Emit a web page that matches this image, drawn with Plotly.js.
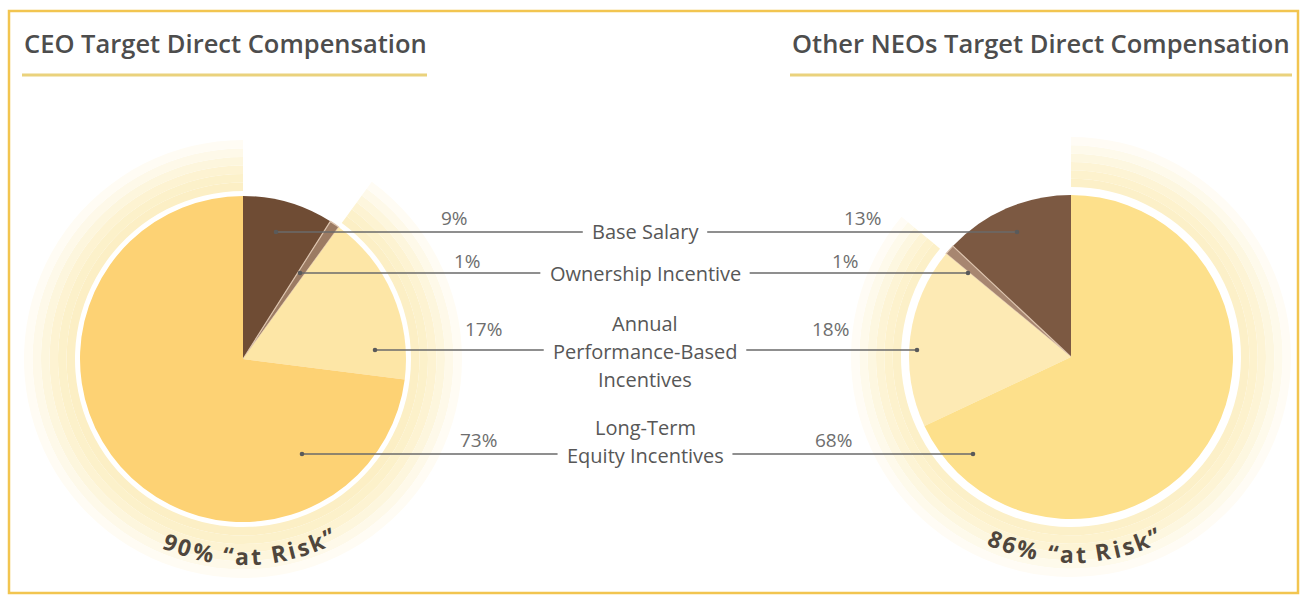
<!DOCTYPE html>
<html><head><meta charset="utf-8">
<script src="https://cdn.plot.ly/plotly-3.0.1.min.js"></script>
<style>html,body{margin:0;padding:0;background:#fff}#chart{width:1305px;height:598px}</style>
</head><body><div id="chart"></div>
<script>
// ---------------- DATA ----------------
const categories = ['Base Salary', 'Ownership Incentive', 'Annual Performance-Based Incentives', 'Long-Term Equity Incentives'];
const categoryLines = [['Base Salary'], ['Ownership Incentive'], ['Annual', 'Performance-Based', 'Incentives'], ['Long-Term', 'Equity Incentives']];
const ceoValues = [9, 1, 17, 73];
const neoValues = [13, 1, 18, 68];
const atRiskValues = [90, 86];
const atRiskSuffix = '% \u201Cat Risk\u201D';
const chartTitles = ['CEO Target Direct Compensation', 'Other NEOs Target Direct Compensation'];

// ---------------- LAYOUT / STYLE ----------------
const W = 1305, H = 598;
const px = x => x / W;
const py = y => 1 - y / H;

const pies = [
  {cx: 243, cy: 359, r: 163, ringIn: 168, ringOut: 219, dir: 'clockwise', values: ceoValues, atRisk: atRiskValues[0],
   colors: ['#6f4c34', '#9c7b63', '#fde6a6', '#fdd274'],
   ringColors: ['#fcefc5', '#fcf1ca', '#fdf3d2', '#fdf6dd', '#fef9e9', '#fffcf4'],
   riskCenterDeg: 2, title: chartTitles[0], titleX: 22, titleAnchor: 'left', ulx: [22, 427]},
  {cx: 1071, cy: 357, r: 162, ringIn: 170, ringOut: 220, dir: 'counterclockwise', values: neoValues, atRisk: atRiskValues[1],
   colors: ['#7c5942', '#a78670', '#fdeab4', '#fde08b'],
   ringColors: ['#fcf0c8', '#fdf2cd', '#fdf4d5', '#fdf7e0', '#fefaeb', '#fffcf5'],
   riskCenterDeg: 1, title: chartTitles[1], titleX: 1292, titleAnchor: 'right', ulx: [790, 1292]}
];

// leader rows (layout positions)
const rows = [
  {lineY: 232, pctY: 218, anchorX: [276, 1017], pctX: [454, 862], textY: [231]},
  {lineY: 273, pctY: 261, anchorX: [300, 968], pctX: [467, 845], textY: [273]},
  {lineY: 350, pctY: 329, anchorX: [375, 917], pctX: [483, 830], textY: [323, 351, 379]},
  {lineY: 454, pctY: 440, anchorX: [302, 973], pctX: [478, 833], textY: [427, 455]}
];
const labelCX = 645;
const labelFont = {family: '"Open Sans"', size: 20, color: '#575757', weight: 400};
const pctFont = {family: '"Open Sans"', size: 19, color: '#6e6e6e', weight: 400};
const riskFont = {family: '"Open Sans"', size: 23, color: '#4f463c', weight: 700};
const titleFont = {family: '"Open Sans"', size: 25.5, color: '#4d4d4d', weight: 600};
const lineColor = '#6a6a6a';

const canvas = document.createElement('canvas');
const ctx = canvas.getContext('2d');
function measure(text, f) { ctx.font = `${f.weight} ${f.size}px ${f.family}`; return ctx.measureText(text).width; }

const traces = [];
const shapes = [];
const annotations = [];

function dom(cx, cy, r) { return {x: [px(cx - r), px(cx + r)], y: [py(cy + r), py(cy - r)]}; }
// Plotly starts a counterclockwise pie with the first slice ending at `rotation`;
// shift so the first slice starts at 12 o'clock.
function startRot(dir, firstValue, total) { return dir === 'counterclockwise' ? -360 * firstValue / total : 0; }

pies.forEach(p => {
  // outer "at risk" ring, drawn as soft bands fading outwards
  const n = p.ringColors.length;
  const w = p.ringOut - p.ringIn;
  for (let i = 0; i < n; i++) {
    const r0 = p.ringIn + w * i / n, r1 = p.ringIn + w * (i + 1) / n;
    traces.push({type: 'pie', values: [100 - p.atRisk, p.atRisk], labels: ['fixed', 'at risk'], sort: false,
      direction: p.dir, rotation: startRot(p.dir, 100 - p.atRisk, 100), hole: r0 / r1, textinfo: 'none', hoverinfo: 'skip', showlegend: false,
      domain: dom(p.cx, p.cy, r1),
      marker: {colors: ['rgba(0,0,0,0)', p.ringColors[i]], line: {width: 0}}});
  }
  // main pie
  const tot = p.values.reduce((a, b) => a + b, 0);
  traces.push({type: 'pie', values: p.values, labels: categories, sort: false, direction: p.dir,
    rotation: startRot(p.dir, p.values[0], tot),
    textinfo: 'none', hoverinfo: 'skip', showlegend: false, domain: dom(p.cx, p.cy, p.r),
    marker: {colors: p.colors, line: {color: [p.colors[0], '#dcc3ad', p.colors[2], p.colors[3]], width: [0, 1.2, 0, 0]}}});

  // title + underline
  annotations.push({xref: 'paper', yref: 'paper', x: px(p.titleX), y: py(43), xanchor: p.titleAnchor, yanchor: 'middle',
    text: p.title, showarrow: false, font: titleFont});
  shapes.push({type: 'line', xref: 'paper', yref: 'paper', x0: px(p.ulx[0]), x1: px(p.ulx[1]), y0: py(75), y1: py(75),
    line: {color: '#ead27c', width: 3}});

  // curved "at risk" text
  const str = p.atRisk + atRiskSuffix;
  const spacing = 2;
  const chars = [...str];
  const widths = chars.map(ch => measure(ch, riskFont) + spacing);
  const total = widths.reduce((a, b) => a + b, 0) - spacing;
  const R = 197;
  let s = -total / 2;
  chars.forEach((ch, i) => {
    const mid = s + (widths[i] - spacing) / 2;
    s += widths[i];
    if (ch === ' ') return;
    const a = p.riskCenterDeg * Math.PI / 180 + mid / R;
    const x = p.cx + R * Math.sin(a);
    const y = p.cy + R * Math.cos(a);
    annotations.push({xref: 'paper', yref: 'paper', x: px(x), y: py(y), xanchor: 'center', yanchor: 'middle',
      text: ch, textangle: -a * 180 / Math.PI, showarrow: false, font: riskFont});
  });
});

// leader lines, percent labels, category labels
rows.forEach((row, k) => {
  const lines = categoryLines[k];
  const maxW = Math.max(...lines.map(t => measure(t, labelFont)));
  const gap = 9;
  const leftEnd = labelCX - maxW / 2 - gap;
  const rightStart = labelCX + maxW / 2 + gap;
  lines.forEach((t, j) => {
    annotations.push({xref: 'paper', yref: 'paper', x: px(labelCX), y: py(row.textY[j]), xanchor: 'center', yanchor: 'middle',
      text: t, showarrow: false, font: labelFont});
  });
  shapes.push({type: 'line', xref: 'paper', yref: 'paper', x0: px(row.anchorX[0]), x1: px(leftEnd), y0: py(row.lineY), y1: py(row.lineY),
    line: {color: lineColor, width: 1.3}, layer: 'above'});
  shapes.push({type: 'line', xref: 'paper', yref: 'paper', x0: px(rightStart), x1: px(row.anchorX[1]), y0: py(row.lineY), y1: py(row.lineY),
    line: {color: lineColor, width: 1.3}, layer: 'above'});
  row.anchorX.forEach(ax => {
    shapes.push({type: 'circle', xref: 'paper', yref: 'paper', x0: px(ax - 2.3), x1: px(ax + 2.3), y0: py(row.lineY + 2.3), y1: py(row.lineY - 2.3),
      fillcolor: '#5a5a5a', line: {width: 0}, layer: 'above'});
  });
  annotations.push({xref: 'paper', yref: 'paper', x: px(row.pctX[0]), y: py(row.pctY), xanchor: 'center', yanchor: 'middle',
    text: ceoValues[k] + '%', showarrow: false, font: pctFont});
  annotations.push({xref: 'paper', yref: 'paper', x: px(row.pctX[1]), y: py(row.pctY), xanchor: 'center', yanchor: 'middle',
    text: neoValues[k] + '%', showarrow: false, font: pctFont});
});

// frame
shapes.push({type: 'rect', xref: 'paper', yref: 'paper', x0: px(9), x1: px(1298), y0: py(593), y1: py(11),
  line: {color: '#f2c550', width: 2.5}, layer: 'above'});

const layout = {
  width: W, height: H, autosize: false,
  margin: {l: 0, r: 0, t: 0, b: 0, pad: 0},
  paper_bgcolor: '#ffffff', plot_bgcolor: '#ffffff',
  showlegend: false,
  shapes, annotations
};
Plotly.newPlot('chart', traces, layout, {staticPlot: true, displayModeBar: false});
</script>
</body></html>
